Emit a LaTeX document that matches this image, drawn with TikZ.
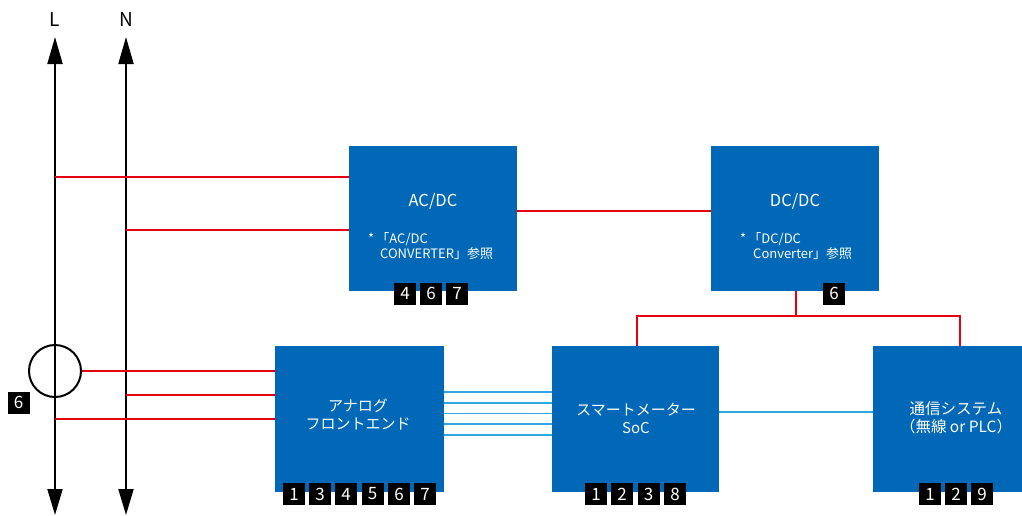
\documentclass[tikz,border=0pt]{standalone}
\usepackage{fontspec}
\setmainfont{Noto Sans CJK JP}
\usetikzlibrary{arrows.meta,backgrounds}
\definecolor{boxblue}{HTML}{0068B7}
\definecolor{wirered}{HTML}{E50012}
\definecolor{sigblue}{HTML}{2EA7E0}
\tikzset{
  blk/.style={fill=boxblue, draw=none, inner sep=0pt},
  badge/.style={fill=black, text=white, minimum width=22pt, minimum height=22pt, inner sep=0pt, font=\fontsize{17}{17}\selectfont},
  ttl/.style={text=white, align=center, inner sep=0pt, font=\fontsize{15}{18}\selectfont},
  bigttl/.style={ttl, font=\fontsize{16.5}{18}\selectfont},
  note/.style={text=white, anchor=west, inner sep=0pt, font=\fontsize{13}{14}\selectfont},
  rail/.style={draw=black, line width=2pt, {Triangle[width=15pt,length=27pt]}-{Triangle[width=15pt,length=26pt]}},
  redw/.style={draw=wirered, line width=2pt},
  bluew/.style={draw=sigblue, line width=1.6pt},
  lbl/.style={inner sep=0pt, font=\fontsize{19}{19}\selectfont}
}
\begin{document}
\begin{tikzpicture}[x=1pt,y=-1pt]
\useasboundingbox (0,0) rectangle (1022,515);
% rails
\coordinate (Ltop) at (55,37);
\coordinate (Lbot) at (55,515);
\coordinate (Ntop) at (126,37);
\coordinate (Nbot) at (126,515);
\node[lbl] (Llab) at (55,20) {L};
\node[lbl] (Nlab) at (126,20) {N};
% boxes
\node[blk, minimum width=168pt, minimum height=145pt] (acdc) at (433,218.5) {};
\node[blk, minimum width=168pt, minimum height=145pt] (dcdc) at (795,218.5) {};
\node[blk, minimum width=169pt, minimum height=146pt] (afe) at (359.5,419) {};
\node[blk, minimum width=167pt, minimum height=146pt] (soc) at (635.5,419) {};
\node[blk, minimum width=149pt, minimum height=146pt] (comm) at (947.5,419) {};
% current sensor
\node[draw=black, line width=2pt, circle, minimum size=52pt, inner sep=0pt] (ct) at (55,371) {};
\begin{scope}[on background layer]
\draw[rail] (Ltop) -- (Lbot);
\draw[rail] (Ntop) -- (Nbot);
% red wires
\coordinate (l177) at (55,177);
\coordinate (n230) at (126,230);
\draw[redw] (l177) -- (l177 -| acdc.west);
\draw[redw] (n230) -- (n230 -| acdc.west);
\coordinate (a211) at (517,211);
\draw[redw] (a211) -- (a211 -| dcdc.west);
\coordinate (d0) at (796,291);
\coordinate (d1) at (796,316);
\coordinate (s1) at (637,316);
\coordinate (c1) at (960,316);
\draw[redw] (d0) -- (d1);
\draw[redw, line join=miter] (s1 |- soc.north) -- (s1) -- (c1) -- (c1 |- comm.north);
\coordinate (n395) at (126,395);
\coordinate (l419) at (55,419);
\draw[redw] (ct.east) -- (ct.east -| afe.west);
\draw[redw] (n395) -- (n395 -| afe.west);
\draw[redw] (l419) -- (l419 -| afe.west);
% signal wires
\foreach \yy in {392,402.7,413.3,424,434.7}{
  \coordinate (b) at (444,\yy);
  \draw[bluew] (b) -- (b -| soc.west);
}
\coordinate (sc) at (719,412);
\draw[bluew] (sc) -- (sc -| comm.west);
\end{scope}
% texts
\node[bigttl] (t1) at (433,201) {AC/DC};
\node[note] (t1a) at (368,239) {*\,「AC/DC};
\node[note] (t1b) at (380,254) {CONVERTER」参照};
\node[bigttl] (t2) at (795,201) {DC/DC};
\node[note] (t2a) at (740,239) {*\,「DC/DC};
\node[note] (t2b) at (753,254) {Converter」参照};
\node[ttl] (t3) at (358,415) {アナログ\\フロントエンド};
\node[ttl] (t4) at (636,418) {スマートメーター\\SoC};
\node[ttl, font=\fontsize{15.5}{18}\selectfont] (t5) at (956,418) {通信システム\\（無線 or PLC）};
% badges
\node[badge] (b0) at (18.5,402.5) {6};
\node[badge] (a4) at (405,293.5) {4};
\node[badge] (a6) at (431,293.5) {6};
\node[badge] (a7) at (457,293.5) {7};
\node[badge] (d6) at (834,293.5) {6};
\node[badge] (f1) at (294,494) {1};
\node[badge] (f3) at (320,494) {3};
\node[badge] (f4) at (346,494) {4};
\node[badge] (f5) at (372.5,494) {5};
\node[badge] (f6) at (399,494) {6};
\node[badge] (f7) at (425,494) {7};
\node[badge] (s1b) at (596,494) {1};
\node[badge] (s2b) at (622,494) {2};
\node[badge] (s3b) at (648.5,494) {3};
\node[badge] (s8b) at (675,494) {8};
\node[badge] (c1b) at (930,494) {1};
\node[badge] (c2b) at (956,494) {2};
\node[badge] (c9b) at (982,494) {9};
\end{tikzpicture}
\end{document}
